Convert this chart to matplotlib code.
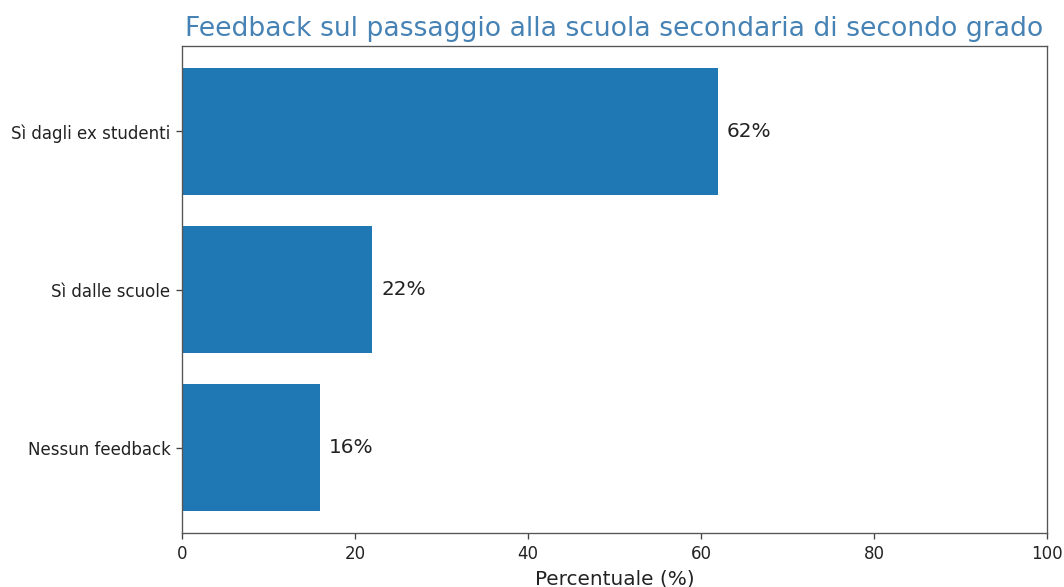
import matplotlib
matplotlib.use("Agg")
import matplotlib.pyplot as plt

categories = ["Sì dagli ex studenti", "Sì dalle scuole", "Nessun feedback"]
values = [62, 22, 16]
xticks = [0, 20, 40, 60, 80, 100]

DPI = 120
fig = plt.figure(figsize=(1064 / DPI, 587 / DPI), dpi=DPI)
ax = fig.add_axes([0.1711, 0.0920, 0.8130, 0.8296])

ypos = list(range(len(categories)))[::-1]
ax.barh(ypos, values, height=0.8, color="#1f77b4")
for y, v in zip(ypos, values):
    ax.text(v + 1.0, y, f"{v}%", va="center", ha="left", fontsize=12, color="#222222")

ax.set_yticks(ypos)
ax.set_yticklabels(categories, fontsize=10, color="#222222")
ax.set_xlim(0, 100)
ax.set_xticks(xticks)
ax.tick_params(axis="x", labelsize=10, labelcolor="#222222")
ax.tick_params(colors="#444444", which="both")
ax.tick_params(axis="both", labelcolor="#222222")
for s in ax.spines.values():
    s.set_color("#555555")
ax.set_xlabel("Percentuale (%)", fontsize=12, color="#222222")
ax.set_title("Feedback sul passaggio alla scuola secondaria di secondo grado",
             fontsize=16, color="#4682B4", loc="center")

fig.savefig("out.png", dpi=DPI)
